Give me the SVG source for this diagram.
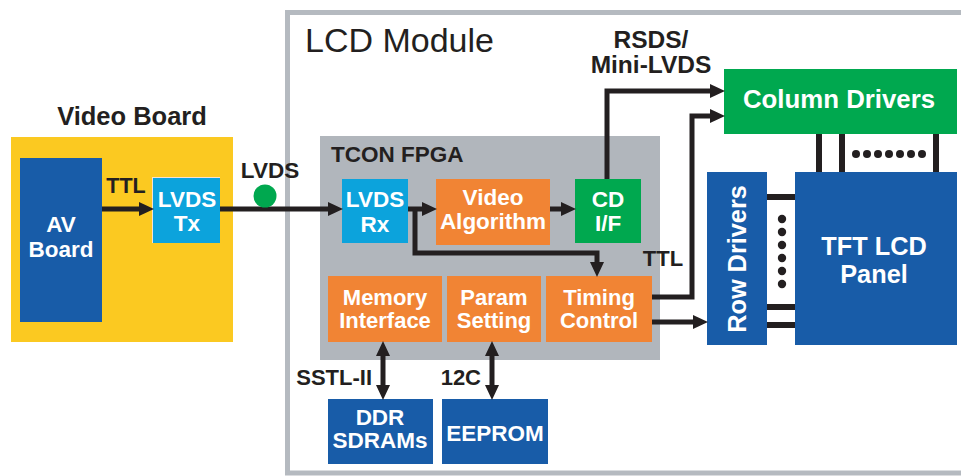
<svg xmlns="http://www.w3.org/2000/svg" width="961" height="476" viewBox="0 0 961 476">
<defs>
<style>
.t{font-family:"Liberation Sans",Arial,sans-serif;font-weight:bold;fill:#fff;text-anchor:middle}
.lb{font-family:"Liberation Sans",Arial,sans-serif;font-weight:bold;fill:#231F20}
.ln{fill:none;stroke:#231F20;stroke-width:5}
.bar{stroke:#231F20;stroke-width:6}
.dot{fill:#231F20}
.blue{fill:#185CA8}
.orange{fill:#F18434}
.green{fill:#00A84F}
.cyan{fill:#0CA3DC}
</style>
<marker id="ah" markerUnits="userSpaceOnUse" markerWidth="16" markerHeight="16" refX="6" refY="8" orient="auto-start-reverse">
<path d="M0,1 L15,8 L0,15 z" fill="#231F20"/>
</marker>
</defs>
<rect width="961" height="476" fill="#fff"/>

<g id="lcd-module">
<rect x="287.5" y="12.5" width="700" height="460.5" fill="none" stroke="#B5BAC0" stroke-width="5"/>
<text x="305" y="52" font-family="Liberation Sans,Arial,sans-serif" font-size="34" fill="#231F20">LCD Module</text>
</g>

<g id="video-board">
<rect x="11" y="137" width="222" height="205" fill="#FBC921"/>
<text class="lb" x="132" y="125" font-size="25.5" text-anchor="middle">Video Board</text>
</g>

<g id="av-board">
<rect class="blue" x="20" y="158" width="82" height="164"/>
<text class="t" x="61" y="232" font-size="22.5">AV</text>
<text class="t" x="61" y="257" font-size="22.5">Board</text>
</g>

<g id="lvds-tx">
<rect x="152" y="177" width="68" height="66" fill="#F6E2D2"/>
<rect class="cyan" x="153" y="178" width="67" height="65"/>
<text class="t" x="187" y="207" font-size="22.5">LVDS</text>
<text class="t" x="187" y="231" font-size="22.5">Tx</text>
</g>

<g id="tcon-fpga">
<rect x="320" y="136" width="340" height="224" fill="#B1B6BC"/>
<text class="lb" x="331" y="162" font-size="22.5">TCON FPGA</text>
</g>

<g id="lvds-rx">
<rect class="cyan" x="342" y="179" width="66" height="64"/>
<text class="t" x="375" y="207" font-size="22.5">LVDS</text>
<text class="t" x="375" y="232" font-size="22.5">Rx</text>
</g>

<g id="video-algorithm">
<rect class="orange" x="436" y="179" width="114" height="66"/>
<text class="t" x="493" y="205" font-size="22.5">Video</text>
<text class="t" x="493" y="229" font-size="22.5">Algorithm</text>
</g>

<g id="cd-if">
<rect class="green" x="575" y="179" width="66" height="64"/>
<text class="t" x="608" y="207" font-size="22.5">CD</text>
<text class="t" x="608" y="231" font-size="22.5">I/F</text>
</g>

<g id="memory-interface">
<rect class="orange" x="328" y="276" width="114" height="66"/>
<text class="t" x="385" y="305" font-size="22">Memory</text>
<text class="t" x="385" y="328" font-size="22">Interface</text>
</g>

<g id="param-setting">
<rect class="orange" x="447" y="276" width="94" height="66"/>
<text class="t" x="494" y="305" font-size="22">Param</text>
<text class="t" x="494" y="328" font-size="22">Setting</text>
</g>

<g id="timing-control">
<rect class="orange" x="546" y="276" width="106" height="66"/>
<text class="t" x="599" y="305" font-size="22">Timing</text>
<text class="t" x="599" y="328" font-size="22">Control</text>
</g>

<g id="column-drivers">
<rect class="green" x="724" y="69" width="233" height="65"/>
<text class="t" x="839" y="108" font-size="25.8">Column Drivers</text>
</g>

<g id="row-drivers">
<rect class="blue" x="707" y="172" width="60" height="173"/>
<text class="t" font-size="25.3" transform="translate(746,259) rotate(-90)">Row Drivers</text>
</g>

<g id="tft-lcd-panel">
<rect class="blue" x="795" y="172" width="162" height="173"/>
<text class="t" x="874" y="255" font-size="25.3">TFT LCD</text>
<text class="t" x="874" y="283" font-size="25.3">Panel</text>
</g>

<g id="ddr-sdrams">
<rect class="blue" x="328" y="399" width="105" height="65"/>
<text class="t" x="380" y="425" font-size="22.5">DDR</text>
<text class="t" x="380" y="448" font-size="22.5">SDRAMs</text>
</g>

<g id="eeprom">
<rect class="blue" x="442" y="399" width="106" height="65"/>
<text class="t" x="495" y="441" font-size="22.5">EEPROM</text>
</g>

<g id="connectors">
<path class="ln" d="M102,209 H145" marker-end="url(#ah)"/>
<path class="ln" d="M220,209 H334" marker-end="url(#ah)"/>
<circle cx="265" cy="196" r="11.5" fill="#00A84F"/>
<path class="ln" d="M408,209 H428" marker-end="url(#ah)"/>
<path class="ln" d="M550,209 H567" marker-end="url(#ah)"/>
<path class="ln" d="M415,209 V253 H597 V268" marker-end="url(#ah)"/>
<path class="ln" d="M607,179 V91 H716" marker-end="url(#ah)"/>
<path class="ln" d="M652,297 H692 V116 H716" marker-end="url(#ah)"/>
<path class="ln" d="M652,322 H699" marker-end="url(#ah)"/>
<path class="ln" d="M383,350 V391" marker-start="url(#ah)" marker-end="url(#ah)"/>
<path class="ln" d="M492,350 V391" marker-start="url(#ah)" marker-end="url(#ah)"/>
<line class="bar" x1="819" y1="134" x2="819" y2="172"/>
<line class="bar" x1="842" y1="134" x2="842" y2="172"/>
<line class="bar" x1="936" y1="134" x2="936" y2="172"/>
<g class="dot">
<circle cx="856" cy="154" r="4"/><circle cx="867" cy="154" r="4"/><circle cx="878" cy="154" r="4"/><circle cx="889" cy="154" r="4"/><circle cx="900" cy="154" r="4"/><circle cx="911" cy="154" r="4"/><circle cx="922" cy="154" r="4"/>
</g>
<line class="bar" x1="767" y1="197" x2="795" y2="197"/>
<line class="bar" x1="767" y1="307" x2="795" y2="307"/>
<line class="bar" x1="767" y1="325" x2="795" y2="325"/>
<g class="dot">
<circle cx="782" cy="219" r="4.2"/><circle cx="782" cy="232" r="4.2"/><circle cx="782" cy="245" r="4.2"/><circle cx="782" cy="258" r="4.2"/><circle cx="782" cy="271" r="4.2"/><circle cx="782" cy="284" r="4.2"/>
</g>
</g>

<g id="labels">
<text class="lb" x="126" y="193" font-size="21.5" text-anchor="middle">TTL</text>
<text class="lb" x="270" y="178" font-size="22.5" text-anchor="middle">LVDS</text>
<text class="lb" x="651" y="48" font-size="24.5" text-anchor="middle">RSDS/</text>
<text class="lb" x="651" y="73" font-size="24.5" text-anchor="middle">Mini-LVDS</text>
<text class="lb" x="663" y="266" font-size="22" text-anchor="middle">TTL</text>
<text class="lb" x="372" y="385" font-size="22" text-anchor="end">SSTL-II</text>
<text class="lb" x="481" y="385" font-size="22" text-anchor="end">12C</text>
</g>
</svg>
